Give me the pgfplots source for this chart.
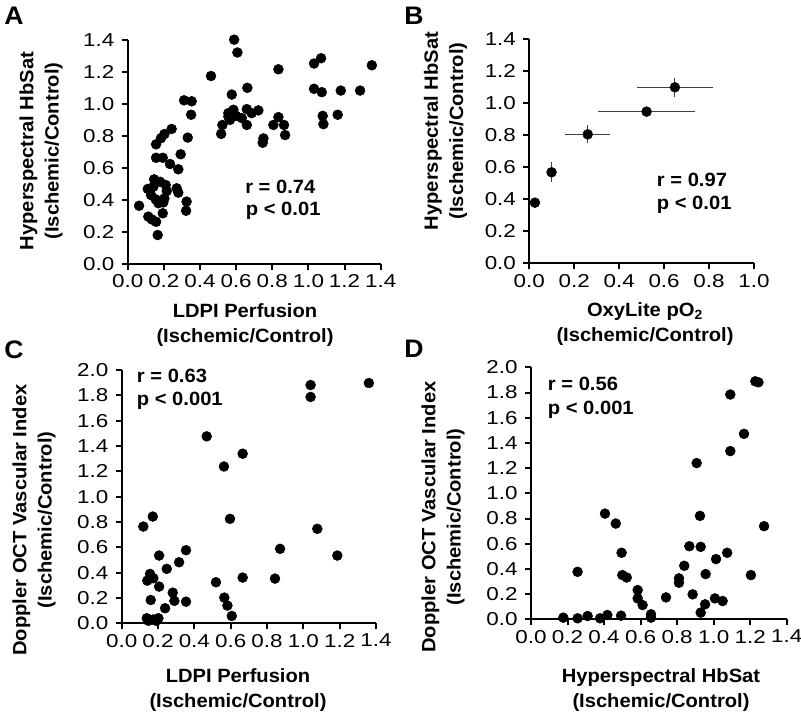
\documentclass[border=0pt]{standalone}
\usepackage{fontspec}
\setmainfont{Liberation Sans}
\newfontfamily\tickfont[FakeStretch=1.2]{Liberation Sans}
\newfontfamily\labfont[FakeStretch=1.05]{Liberation Sans}
\usepackage{pgfplots}
\pgfplotsset{compat=1.18}
\newcommand\lab{\labfont\fontsize{14.4}{19}\selectfont\bfseries}
\pgfplotsset{
 panel/.style={
  scale only axis, enlargelimits=false, clip=false, anchor=south west,
  axis x line*=bottom, axis y line*=left,
  axis line style={line width=1.5pt,-},
  every tick/.style={line width=1.5pt, black},
  tick align=outside, major tick length=4.5pt,
  tick label style={font=\tickfont\fontsize{14}{16}\selectfont},
  xticklabel style={font=\tickfont\fontsize{14}{16}\selectfont},
  yticklabel style={font=\tickfont\fontsize{14}{16}\selectfont, xshift=-2pt},
  /pgf/number format/fixed, /pgf/number format/fixed zerofill,
  /pgf/number format/precision=1, /pgf/number format/assume math mode=true,
 },
 dots/.style={only marks, mark=*, mark size=3.7pt, mark options={fill=black, draw=black}}
}
\begin{document}
\begin{tikzpicture}
\useasboundingbox (0,0) rectangle (600.75pt,-536.25pt);
% ---------------- A
\begin{axis}[panel, at={(95.78pt,-198pt)}, width=189.75pt, height=168pt,
  xmin=0, xmax=1.4, ymin=0, ymax=1.4,
  xtick={0,0.2,...,1.4}, ytick={0,0.2,...,1.4}]
\addplot[dots] coordinates {
(0.063,0.364) (0.114,0.296) (0.133,0.279) (0.157,0.264) (0.166,0.181) (0.194,0.317)
(0.111,0.469) (0.129,0.431) (0.146,0.529) (0.142,0.483) (0.155,0.404) (0.179,0.514)
(0.210,0.494) (0.216,0.456) (0.203,0.410) (0.184,0.390) (0.170,0.380) (0.197,0.385)
(0.157,0.748) (0.184,0.786) (0.203,0.812) (0.243,0.844) (0.157,0.664) (0.194,0.664)
(0.234,0.625) (0.280,0.592) (0.293,0.686) (0.271,0.473) (0.280,0.446) (0.326,0.390)
(0.323,0.333) (0.332,0.790) (0.312,1.023) (0.354,1.017) (0.351,0.933)
(0.461,1.175) (0.517,0.813) (0.524,0.869) (0.566,0.901) (0.557,0.943) (0.576,1.059)
(0.585,0.964) (0.600,0.926) (0.557,0.922) (0.631,0.912) (0.589,1.402) (0.607,1.322)
(0.662,1.101) (0.659,0.968) (0.659,0.869) (0.686,0.943) (0.723,0.960) (0.751,0.785)
(0.747,0.758) (0.806,0.869) (0.834,0.918) (0.865,0.869) (0.871,0.806) (0.834,1.217)
(1.031,1.253) (1.070,1.286) (1.031,1.095) (1.074,1.074) (1.079,0.926) (1.083,0.874)
(1.162,0.933) (1.179,1.084) (1.286,1.084) (1.351,1.242)
};
\end{axis}
% ---------------- B
\begin{axis}[panel, at={(396.98pt,-197.48pt)}, width=168.5pt, height=168pt,
  xmin=0, xmax=1.0, ymin=0, ymax=1.4,
  xtick={0,0.2,...,1.0}, ytick={0,0.2,...,1.4}]
\addplot[dots, error bars/.cd, x dir=both, x explicit, y dir=both, y explicit,
  error bar style={line width=0.6pt, black!75},
  error mark options={mark size=2pt, line width=0.6pt, draw=black!75}]
 coordinates {
(0.025,0.379) +- (0,0)
(0.099,0.569) +- (0,0.045)
(0.260,0.806) +- (0.088,0.040)
(0.522,0.948) +- (0.205,0.015)
(0.648,1.100) +- (0.158,0.043)
};
\end{axis}
% ---------------- C
\begin{axis}[panel, at={(91.28pt,-467.48pt)}, width=190.7pt, height=190pt,
  xmin=0, xmax=1.4, ymin=0, ymax=2.0,
  xtick={0,0.2,...,1.4}, ytick={0,0.2,...,2.0}]
\addplot[dots] coordinates {
(0.119,0.764) (0.171,0.843) (0.141,0.337) (0.156,0.390) (0.174,0.356) (0.160,0.184)
(0.206,0.535) (0.206,0.290) (0.248,0.430) (0.281,0.242) (0.290,0.177) (0.239,0.119)
(0.316,0.482) (0.354,0.577) (0.354,0.171)
(0.138,0.040) (0.147,0.020) (0.174,0.030) (0.202,0.040) (0.189,0.020)
(0.468,1.476) (0.519,0.324) (0.563,1.238) (0.666,1.339) (0.596,0.825) (0.565,0.203)
(0.582,0.140) (0.606,0.058) (0.666,0.361) (0.844,0.353) (0.872,0.588)
(1.040,1.881) (1.040,1.787) (1.077,0.746) (1.187,0.535) (1.361,1.897)
};
\end{axis}
% ---------------- D
\begin{axis}[panel, at={(398.25pt,-464.48pt)}, width=191.8pt, height=189pt,
  xmin=0, xmax=1.4, ymin=0, ymax=2.0,
  xtick={0,0.2,...,1.4}, ytick={0,0.2,...,2.0}]
\addplot[dots] coordinates {
(0.177,0.013) (0.255,0.008) (0.255,0.377) (0.310,0.026) (0.378,0.008) (0.418,0.034)
(0.493,0.029) (0.405,0.839) (0.464,0.760) (0.496,0.528) (0.500,0.351) (0.524,0.332)
(0.584,0.232) (0.584,0.166) (0.611,0.113) (0.657,0.040) (0.657,0.013) (0.739,0.174)
(0.810,0.325) (0.810,0.290) (0.839,0.425) (0.867,0.580) (0.885,0.198) (0.907,1.240)
(0.925,0.821) (0.929,0.575) (0.929,0.053) (0.953,0.119) (0.956,0.359) (1.013,0.478)
(1.007,0.166) (1.049,0.145) (1.074,0.528) (1.091,1.784) (1.091,1.335) (1.166,1.472)
(1.204,0.351) (1.228,1.889) (1.245,1.881) (1.276,0.739)
};
\end{axis}
% ---------------- texts (pixel coordinates)
\begin{scope}[x=0.75pt,y=-0.75pt]
\node[font=\labfont\fontsize{19}{22}\selectfont\bfseries] at (14,16) {A};
\node[font=\labfont\fontsize{19}{22}\selectfont\bfseries] at (414,16) {B};
\node[font=\labfont\fontsize{19}{22}\selectfont\bfseries] at (14,350) {C};
\node[font=\labfont\fontsize{19}{22}\selectfont\bfseries] at (414,349) {D};
\node[rotate=90, align=center, font=\lab] at (41,151) {Hyperspectral HbSat\\(Ischemic/Control)};
\node[rotate=90, align=center, font=\lab] at (445.5,131) {Hyperspectral HbSat\\(Ischemic/Control)};
\node[rotate=90, align=center, font=\lab] at (34,520) {Doppler OCT Vascular Index\\(Ischemic/Control)};
\node[rotate=90, align=center, font=\lab] at (443,517) {Doppler OCT Vascular Index\\(Ischemic/Control)};
\node[align=center, font=\lab] at (245,325) {LDPI Perfusion\\(Ischemic/Control)};
\node[align=center, font=\lab] at (645,324) {OxyLite pO\textsubscript{2}\\(Ischemic/Control)};
\node[align=center, font=\lab] at (238,690) {LDPI Perfusion\\(Ischemic/Control)};
\node[align=center, font=\lab] at (661,690) {Hyperspectral HbSat\\(Ischemic/Control)};
\node[anchor=base west, inner sep=0pt, font=\lab] at (245,193.3) {r = 0.74};
\node[anchor=base west, inner sep=0pt, font=\lab] at (245.7,215) {p < 0.01};
\node[anchor=base west, inner sep=0pt, font=\lab] at (656.7,186) {r = 0.97};
\node[anchor=base west, inner sep=0pt, font=\lab] at (656.7,209) {p < 0.01};
\node[anchor=base west, inner sep=0pt, font=\lab] at (136.7,382.3) {r = 0.63};
\node[anchor=base west, inner sep=0pt, font=\lab] at (136.7,405) {p < 0.001};
\node[anchor=base west, inner sep=0pt, font=\lab] at (547.7,390) {r = 0.56};
\node[anchor=base west, inner sep=0pt, font=\lab] at (547.7,414) {p < 0.001};
\end{scope}
\end{tikzpicture}
\end{document}
